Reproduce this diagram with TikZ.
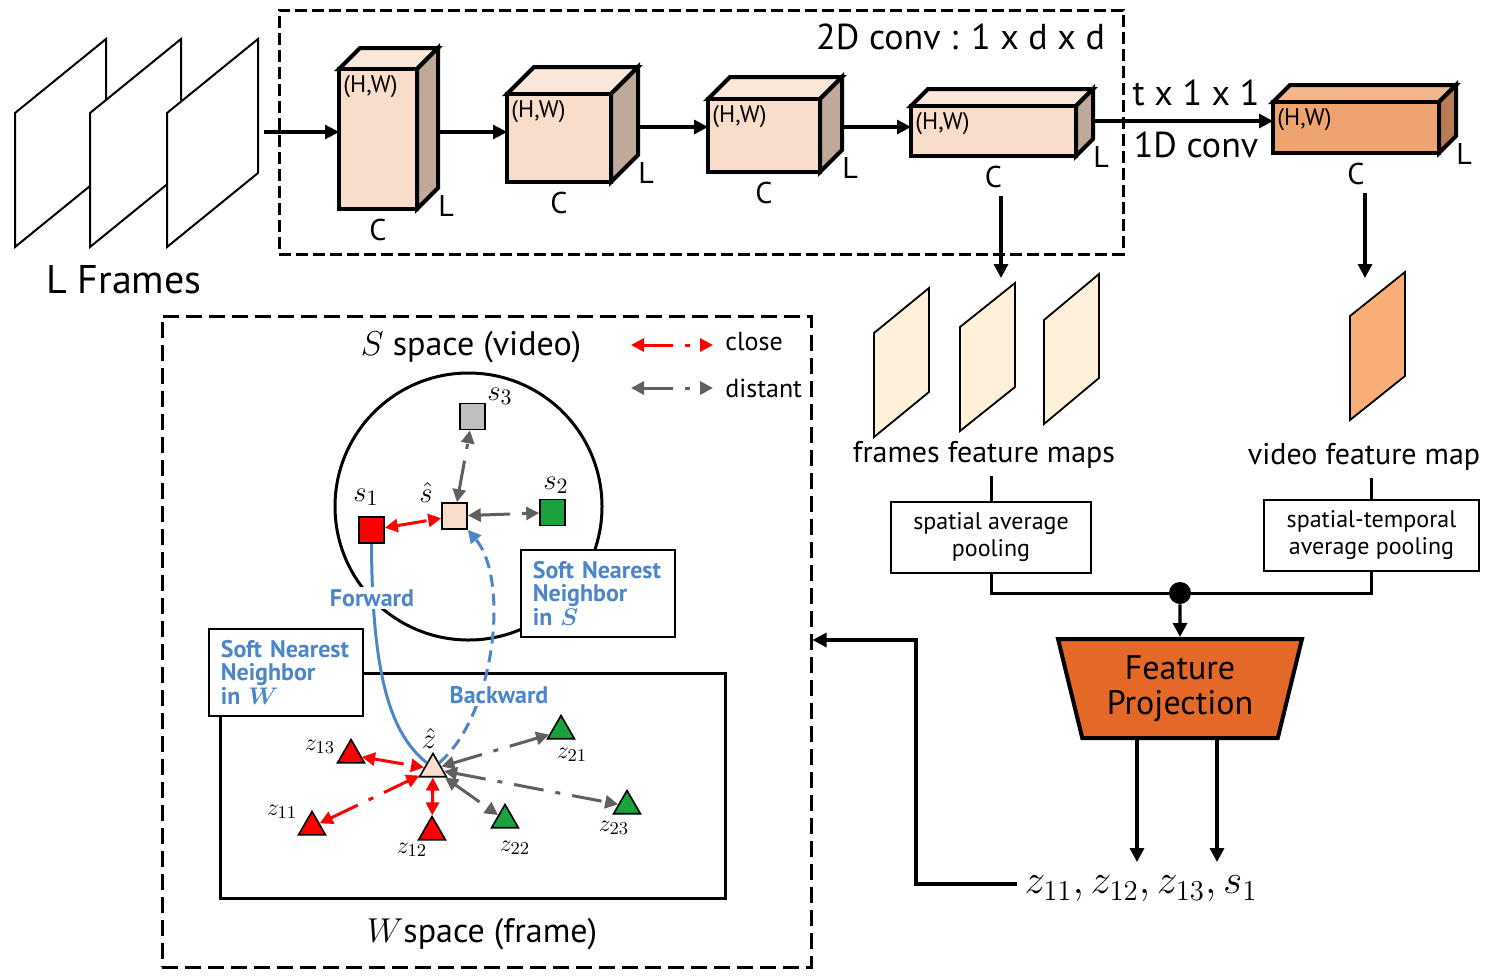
\documentclass[tikz,border=0pt]{standalone}
\usepackage{amsmath, amssymb}
\usepackage{xcolor}
\usepackage{fontspec}
\setmainfont{PT Sans}
\usetikzlibrary{calc, arrows.meta, positioning, shapes.geometric}

\definecolor{cubefront}{HTML}{F8DDCB}
\definecolor{cubetop}{HTML}{FBE7DA}
\definecolor{cubeside}{HTML}{BEA99B}
\definecolor{vidfront}{HTML}{EEA370}
\definecolor{vidtop}{HTML}{F3B58C}
\definecolor{vidside}{HTML}{B97B52}
\definecolor{mapfill}{HTML}{FFF0DA}
\definecolor{vmapfill}{HTML}{F9AE77}
\definecolor{projfill}{HTML}{E46828}
\definecolor{snnblue}{HTML}{4A86C8}
\definecolor{closered}{HTML}{FF0000}
\definecolor{fargray}{HTML}{606060}
\definecolor{sgreen}{HTML}{1AA33C}
\definecolor{sgray}{HTML}{BFBFBF}

\tikzset{
	conn/.style={line width=1.6pt, -{Triangle[length=7pt, width=7pt]}},
	cubeline/.style={line width=2pt, line join=miter},
	mapline/.style={line width=0.9pt},
	hwlabel/.style={font=\fontsize{12}{13}\selectfont, inner sep=2pt},
	dimlabel/.style={font=\fontsize{15}{16}\selectfont, inner sep=1pt},
	biglabel/.style={font=\fontsize{18}{19}\selectfont},
	midlabel/.style={font=\fontsize{15}{16}\selectfont},
	poolbox/.style={draw, line width=1pt, align=center, font=\fontsize{12}{13.5}\selectfont, minimum width=100pt, minimum height=35.5pt},
	pairline/.style={line width=1.5pt, dash pattern=on 15pt off 6pt on 2.5pt off 6pt, {Triangle[length=6.5pt, width=6.5pt]}-{Triangle[length=6.5pt, width=6.5pt]}},
	closepair/.style={pairline, draw=closered},
	farpair/.style={pairline, draw=fargray},
	sq/.style={draw, line width=0.8pt, inner sep=0pt, minimum width=12.5pt, minimum height=13pt},
	tri/.style={regular polygon, regular polygon sides=3, draw, line width=0.8pt, inner sep=0pt, minimum size=15.5pt},
	snnbox/.style={draw, fill=white, line width=0.8pt, align=left, text=snnblue, font=\bfseries\fontsize{12}{11.75}\selectfont, text width=65pt, minimum height=43.5pt, inner xsep=6pt, inner ysep=3pt, anchor=north west},
	bluetext/.style={text=snnblue, font=\bfseries\fontsize{12}{13}\selectfont, fill=white, inner sep=1pt},
	mathlabel/.style={font=\fontsize{15}{16}\selectfont, inner sep=1pt},
	zlabel/.style={font=\fontsize{13}{14}\selectfont, inner sep=1pt},
}

\begin{document}
\begin{tikzpicture}[x=0.5pt, y=-0.5pt]
	\useasboundingbox (0,0) rectangle (1486,975);
	\def\fw{91};
	\def\mw{55};

	\foreach \x in {15,90,167}
		\filldraw[fill=white, line width=1pt] (\x,247) -- (\x,113) -- (\x+\fw,39) -- (\x+\fw,173) -- cycle;
	\node[font=\fontsize{20}{21}\selectfont] (frames) at (124,280) {L Frames};
	\coordinate (frames-out) at (264,132);

	\node[draw, line width=1.5pt, dash pattern=on 6pt off 2.5pt, minimum width=422pt, minimum height=122pt] (convbox) at (701,132) {};
	\node[biglabel, anchor=east] (conv2d) at (1112,37) {2D conv : 1 x d x d};

	\foreach \n/\x/\y/\w/\h/\d/\a/\col in {1/339/69/78/140/21/132/cube, 2/507/94/104/88/27/132/cube, 3/708/99/112/73/22/127/cube, 4/911/106/165/50/17/127/cube, 5/1273/102/166/51/17/121/vid}
	{
		\filldraw[cubeline, fill=\col top] (\x,\y) -- ++(\d,-\d) -- ++(\w,0) -- ++(-\d,\d) -- cycle;
		\filldraw[cubeline, fill=\col side] (\x+\w,\y) -- ++(\d,-\d) -- ++(0,\h) -- ++(-\d,\d) -- cycle;
		\filldraw[cubeline, fill=\col front] (\x,\y) rectangle ++(\w,\h);

		\node[hwlabel, anchor=west] (hw\n) at (\x,\y+18) {(H,W)};
		\node[dimlabel] (c\n) at (\x+\w/2,\y+\h+21) {C};
		\node[dimlabel] (l\n) at (\x+\w+\d+8,\y+\h-\d+18) {L};

		\coordinate (cube\n-in) at (\x,\a);
		\coordinate (cube\n-out) at (\x+\w+\d,\a);
	}

	\draw[conn] (frames-out) -- (cube1-in);
	\foreach \m/\n in {1/2,2/3,3/4,4/5}
		\draw[conn] (cube\m-out |- cube\n-in) -- (cube\n-in);

	\node[biglabel] (t11) at (1196,93) {t x 1 x 1};
	\node[biglabel] (conv1d) at (1196,145) {1D conv};

	\foreach \x/\y/\s in {874/437/45, 960/431/44, 1044/424/46}
		\filldraw[mapline, fill=mapfill] (\x,\y) -- ++(0,-104) -- ++(\mw,-\s) -- ++(0,104) -- cycle;
	\filldraw[mapline, fill=vmapfill] (1350,420) -- ++(0,-104) -- ++(\mw,-44) -- ++(0,104) -- cycle;

	\coordinate (fmaps-in) at (1001,278);
	\coordinate (vmaps-in) at (1365,278);
	\draw[conn, shorten <=3pt] (fmaps-in |- c4.south) -- (fmaps-in);
	\draw[conn, shorten <=3pt] (vmaps-in |- c5.south) -- (vmaps-in);

	\node[midlabel] (fmaps) at (984,455) {frames feature maps};
	\node[midlabel] (vmaps) at (1364,457) {video feature map};

	\node[poolbox] (spool) at (991,537.5) {spatial average\\pooling};
	\node[poolbox, minimum width=107.5pt] (stpool) at (1371.5,535.5) {spatial-temporal\\average pooling};
	\draw[line width=1.5pt] (spool.north) -- (spool.north |- fmaps.south);
	\draw[line width=1.5pt] (stpool.north) -- (stpool.north |- vmaps.south);

	\node[trapezium, trapezium angle=76, trapezium stretches=true, shape border rotate=180, draw, line width=2pt, fill=projfill, minimum width=122.5pt, minimum height=49.5pt, align=center, font=\fontsize{17}{17.5}\selectfont] (proj) at (1180,688.5) {Feature\\Projection};

	\node[circle, fill, inner sep=0pt, minimum size=11pt] (join) at (1180,593) {};
	\draw[line width=1.5pt] (spool.south) |- (join.center) -| (stpool.south);
	\draw[conn] (join) -- (proj.north);

	\node[font=\fontsize{20}{22}\selectfont] (zout) at (1141,889) {$z_{11}, z_{12}, z_{13}, s_1$};
	\coordinate (pout1) at (1137,862);
	\coordinate (pout2) at (1217,862);
	\draw[conn] (proj.south -| pout1) -- (pout1);
	\draw[conn] (proj.south -| pout2) -- (pout2);

	\node[draw, line width=1.5pt, dash pattern=on 8pt off 3.5pt, minimum width=324.5pt, minimum height=325.5pt] (cyclebox) at (486.5,641.5) {};
	\coordinate (fb) at (916,640);
	\draw[conn] ([yshift=2.5pt]zout.west) -| (fb) -- (fb -| cyclebox.east);

	\node[font=\fontsize{17}{18}\selectfont] (stitle) at (471,347) {$S$ space (video)};
	\node[font=\fontsize{17}{18}\selectfont] (wtitle) at (482,934) {$W$space (frame)};

	\coordinate (lg1a) at (631,345);
	\coordinate (lg1b) at (713,345);
	\coordinate (lg2a) at (631,388);
	\coordinate (lg2b) at (713,388);
	\draw[closepair] (lg1a) -- (lg1b);
	\draw[farpair] (lg2a) -- (lg2b);
	\node[zlabel, anchor=west] (closelbl) at (723,342) {close};
	\node[zlabel, anchor=west] (distlbl) at (723,388) {distant};

	\node[draw, line width=1.5pt, minimum width=252.5pt, minimum height=112.5pt] (wspace) at (473,785.5) {};
	\node[circle, draw, line width=1.5pt, minimum size=133.5pt] (sspace) at (468.5,506.5) {};

	\node[sq, fill=sgray] (s3) at (472.5,416.5) {};
	\node[sq, fill=cubefront] (shat) at (454.5,516) {};
	\node[sq, fill=sgreen] (s2) at (552.5,512.5) {};
	\node[sq, fill=closered] (s1) at (371.5,530) {};
	\node[mathlabel] (s3lbl) at (500,396) {$s_3$};
	\node[mathlabel] (shatlbl) at (426,492) {$\hat{s}$};
	\node[mathlabel] (s2lbl) at (556,485) {$s_2$};
	\node[mathlabel] (s1lbl) at (366,497) {$s_1$};

	\draw[closepair] (s1) -- (shat);
	\draw[farpair] (shat) -- (s3);
	\draw[farpair] (shat) -- (s2);

	\node[tri, fill=cubefront] (zhat) at (433,769) {};
	\node[tri, fill=closered] (z13) at (351,755) {};
	\node[tri, fill=closered] (z11) at (312,827) {};
	\node[tri, fill=closered] (z12) at (432,832) {};
	\node[tri, fill=sgreen] (z22) at (505,820) {};
	\node[tri, fill=sgreen] (z21) at (561,731) {};
	\node[tri, fill=sgreen] (z23) at (627,806) {};

	\node[mathlabel] (zhatlbl) at (429,738) {$\hat{z}$};
	\node[zlabel] (z13lbl) at (320,747) {$z_{13}$};
	\node[zlabel] (z11lbl) at (282,812) {$z_{11}$};
	\node[zlabel] (z12lbl) at (412,850) {$z_{12}$};
	\node[zlabel] (z22lbl) at (515,848) {$z_{22}$};
	\node[zlabel] (z21lbl) at (572,755) {$z_{21}$};
	\node[zlabel] (z23lbl) at (614,828) {$z_{23}$};

	\draw[closepair] (z13) -- (zhat);
	\draw[closepair] (z11) -- (zhat);
	\draw[closepair] (z12) -- (zhat);
	\draw[farpair] (zhat) -- (z21);
	\draw[farpair] (zhat) -- (z22);
	\draw[farpair] (zhat) -- (z23);

	\draw[snnblue, line width=1.5pt] (s1.south) .. controls (372,680) and (392,735) .. (zhat.north west);
	\draw[snnblue, line width=1.5pt, dash pattern=on 6pt off 3.5pt, -{Triangle[length=6.5pt, width=6.5pt]}] (zhat.north east) .. controls (495,715) and (510,580) .. (shat.south east);
	\node[bluetext] (fwd) at (372,598) {Forward};
	\node[bluetext] (bwd) at (499,695) {Backward};

	\node[snnbox] (snns) at (520,549) {Soft Nearest\\Neighbor\\in $\boldsymbol{S}$};
	\node[snnbox] (snnw) at (208,628) {Soft Nearest\\Neighbor\\in $\boldsymbol{W}$};
\end{tikzpicture}
\end{document}
